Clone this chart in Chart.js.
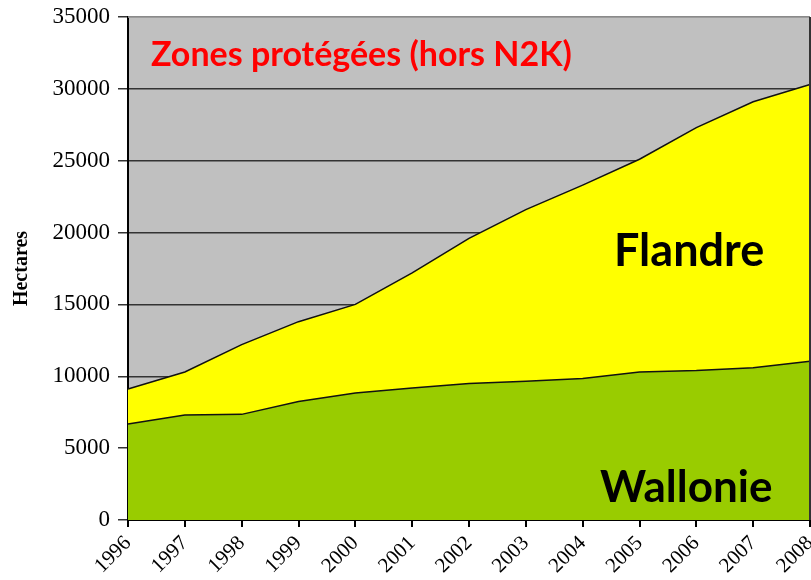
<!DOCTYPE html>
<html><head><meta charset="utf-8">
<script src="https://cdn.jsdelivr.net/npm/chart.js@4"></script>
<style>html,body{margin:0;padding:0;background:#fff}#wrap{width:811px;height:580px}</style>
</head><body><div id="wrap"><canvas id="c" width="811" height="580"></canvas></div>
<script>
const years = ['1996','1997','1998','1999','2000','2001','2002','2003','2004','2005','2006','2007','2008'];
const wallonie = [6680, 7300, 7350, 8250, 8830, 9180, 9500, 9650, 9850, 10300, 10400, 10600, 11050];
const flandre  = [2430, 3000, 4850, 5550, 6170, 8020, 10100, 11950, 13450, 14800, 16900, 18500, 19250];
const yTicks = [0, 5000, 10000, 15000, 20000, 25000, 30000, 35000];
const titleText = 'Zones protégées (hors N2K)';
const seriesNames = ['Wallonie', 'Flandre'];

const bgPlugin = {
  id: 'bg',
  beforeDraw(chart) {
    const {ctx, chartArea: a} = chart;
    ctx.save();
    ctx.fillStyle = '#c0c0c0';
    ctx.fillRect(a.left, a.top, a.right - a.left, a.bottom - a.top);
    ctx.restore();
  },
  afterDatasetsDraw(chart) {
    const {ctx, chartArea: a} = chart;
    ctx.save();
    ctx.strokeStyle = '#a8a8a8';
    ctx.lineWidth = 1.5;
    ctx.beginPath(); ctx.moveTo(a.left, a.top); ctx.lineTo(a.right, a.top); ctx.stroke();
    ctx.strokeStyle = '#333';
    ctx.lineWidth = 2;
    ctx.beginPath(); ctx.moveTo(a.right, a.top); ctx.lineTo(a.right, a.bottom); ctx.stroke();
    ctx.textBaseline = 'alphabetic';
    ctx.textAlign = 'left';
    ctx.fillStyle = '#ff0000';
    ctx.font = 'bold 34px Lato, "Open Sans", sans-serif';
    ctx.fillText(titleText, a.left + 23, a.top + 49);
    ctx.fillStyle = '#000';
    ctx.font = 'bold 45px Lato, "Open Sans", sans-serif';
    ctx.fillText(seriesNames[1], a.left + 486, a.top + 249);
    ctx.font = 'bold 44px Lato, "Open Sans", sans-serif';
    ctx.fillText(seriesNames[0], a.left + 472, a.top + 485);
    ctx.restore();
  }
};

new Chart(document.getElementById('c'), {
  type: 'line',
  data: {
    labels: years,
    datasets: [
      { label: seriesNames[0], data: wallonie, fill: 'origin', backgroundColor: '#99cc00', borderColor: '#111', borderWidth: 1.5, pointRadius: 0, tension: 0 },
      { label: seriesNames[1], data: flandre, fill: '-1', backgroundColor: '#ffff00', borderColor: '#111', borderWidth: 1.5, pointRadius: 0, tension: 0 }
    ]
  },
  options: {
    responsive: false,
    animation: false,
    layout: { padding: { top: 17, right: 1, left: 0, bottom: 0 } },
    plugins: { legend: { display: false }, tooltip: { enabled: false } },
    scales: {
      x: {
        offset: false,
        grid: { drawOnChartArea: false, color: '#000', tickLength: 7, lineWidth: 2 },
        border: { color: '#000', width: 2 },
        ticks: { color: '#000', maxRotation: 45, minRotation: 45, autoSkip: false, padding: 4, font: { family: '"Liberation Serif", serif', size: 21 } },
        afterFit(s) { s.paddingLeft = 0; s.paddingRight = 0; s.height = 60; }
      },
      y: {
        stacked: true,
        min: 0, max: 35000,
        afterBuildTicks(s) { s.ticks = yTicks.map(v => ({ value: v })); },
        grid: { color: '#333', lineWidth: 1.5, tickLength: 10 },
        border: { color: '#000', width: 2 },
        ticks: { color: '#000', padding: 8, callback: v => String(v), font: { family: '"Liberation Serif", serif', size: 23 } },
        title: { display: true, text: 'Hectares', color: '#000', padding: { top: 10, bottom: 0 }, font: { family: '"Liberation Serif", serif', size: 20, weight: 'bold' } },
        afterFit(s) { s.width = 128; s.paddingTop = 0; s.paddingBottom = 0; }
      }
    }
  },
  plugins: [bgPlugin]
});
</script></body></html>
